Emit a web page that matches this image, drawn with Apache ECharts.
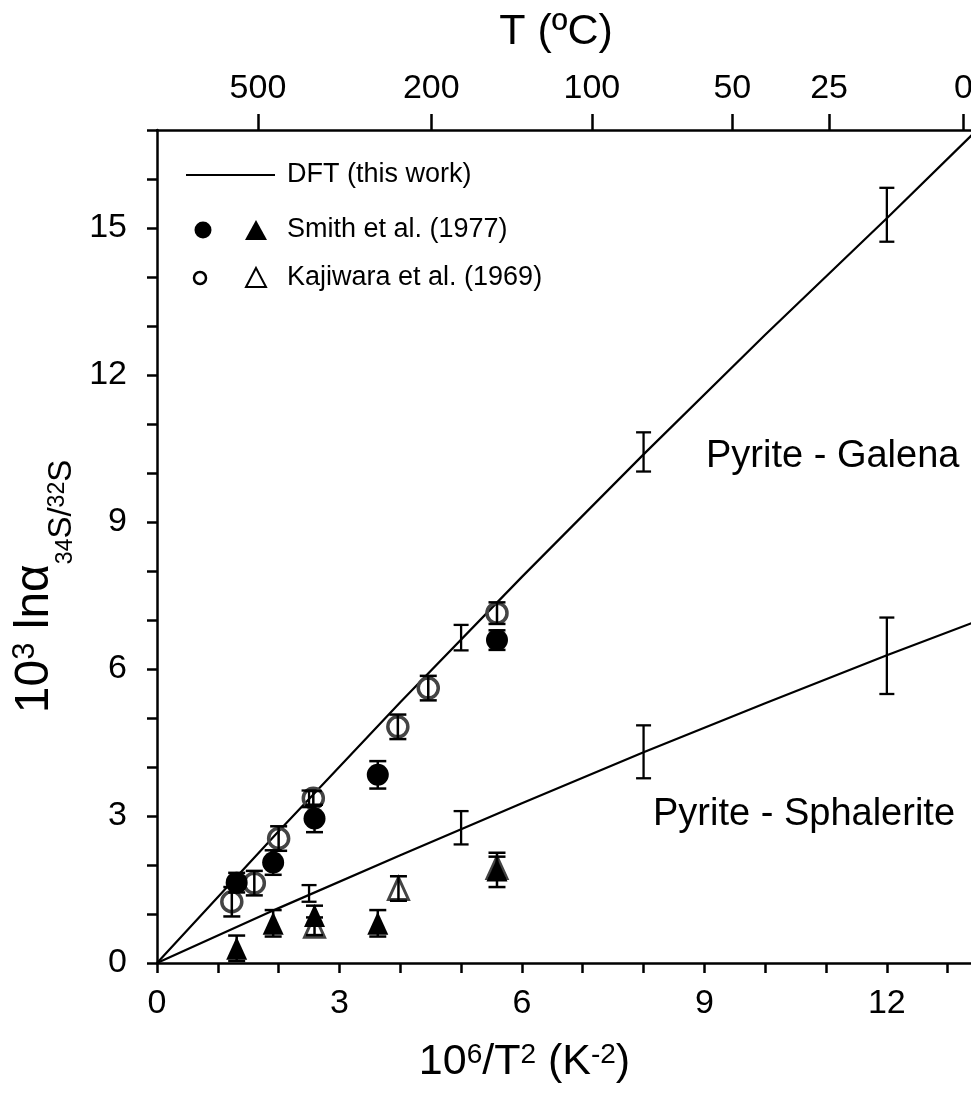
<!DOCTYPE html>
<html>
<head>
<meta charset="utf-8">
<script src="https://cdn.jsdelivr.net/npm/echarts@6/dist/echarts.min.js"></script>
<style>
html,body{margin:0;padding:0;background:#fff;}
#chart{width:971px;height:1100px;}
</style>
</head>
<body>
<div id="chart"></div>
<script>
// ---- DFT model curves (this work) ----
const dftX = [0, 2, 4, 6, 8, 10, 12, 13.4];
const galenaDFT = [0, 2.69, 5.32, 7.88, 10.38, 12.82, 15.2, 16.9];
const sphaleriteDFT = [0, 1.12, 2.2, 3.26, 4.3, 5.3, 6.28, 6.94];

// ---- DFT error bars ----
const dftErrX = [2.5, 5, 8, 12];
const galenaDFTCenter = [3.35, 6.64, 10.43, 15.27];
const galenaDFTErr = [0.17, 0.26, 0.4, 0.55];
const sphaleriteDFTCenter = [1.42, 2.76, 4.31, 6.27];
const sphaleriteDFTErr = [0.17, 0.34, 0.54, 0.78];

// ---- Smith et al. (1977) ----
const smithGalenaX = [1.31, 1.91, 2.59, 3.63, 5.59];
const smithGalenaY = [1.64, 2.05, 2.95, 3.84, 6.59];
const smithGalenaErr = [0.2, 0.25, 0.28, 0.28, 0.2];
const smithSphalX = [1.31, 1.91, 2.59, 3.63, 5.59];
const smithSphalY = [0.3, 0.81, 0.97, 0.81, 1.9];
const smithSphalErr = [0.26, 0.27, 0.2, 0.27, 0.35];

// ---- Kajiwara et al. (1969) ----
const kajGalenaX = [1.23, 1.6, 2.0, 2.57, 3.96, 4.46, 5.59];
const kajGalenaY = [1.25, 1.63, 2.54, 3.36, 4.82, 5.61, 7.14];
const kajGalenaErr = [0.3, 0.25, 0.25, 0.15, 0.25, 0.25, 0.22];
const kajSphalX = [2.59, 3.97, 5.59];
const kajSphalY = [0.75, 1.52, 1.95];
const kajSphalErr = [0.18, 0.25, 0.22];

// ---- axes ----
const xTicks = [0,1,2,3,4,5,6,7,8,9,10,11,12,13];
const xLabels = [0, 3, 6, 9, 12];
const yTicks = [0,1,2,3,4,5,6,7,8,9,10,11,12,13,14,15,16,17];
const yLabels = [0, 3, 6, 9, 12, 15];
const topTickPos = [1.66, 4.51, 7.15, 9.46, 11.05, 13.26];
const topTickLabels = ['500', '200', '100', '50', '25', '0'];

const FONT = '"Liberation Sans", Arial, Helvetica, sans-serif';
const zip = (xs, ys) => xs.map((x, i) => [x, ys[i]]);
const zip3 = (xs, ys, es) => xs.map((x, i) => [x, ys[i], es[i]]);

function errRender(capHalf, lw) {
  return function (params, api) {
    const x = api.value(0), y = api.value(1), e = api.value(2);
    const t = api.coord([x, y + e]);
    const b = api.coord([x, y - e]);
    const st = { stroke: '#000', lineWidth: lw };
    return {
      type: 'group',
      children: [
        { type: 'line', shape: { x1: t[0], y1: t[1], x2: b[0], y2: b[1] }, style: st },
        { type: 'line', shape: { x1: t[0] - capHalf, y1: t[1], x2: t[0] + capHalf, y2: t[1] }, style: st },
        { type: 'line', shape: { x1: b[0] - capHalf, y1: b[1], x2: b[0] + capHalf, y2: b[1] }, style: st }
      ]
    };
  };
}

const axisLineStyle = { color: '#000', width: 2.5 };
const tickLabelStyle = { color: '#000', fontSize: 34, fontFamily: FONT };

const option = {
  backgroundColor: '#fff',
  animation: false,
  grid: { left: 157, top: 130, width: 815, height: 833, outerBoundsMode: 'none', containLabel: false },
  xAxis: [
    {
      type: 'value', position: 'bottom', min: 0, max: 13.4,
      axisLine: { show: true, lineStyle: axisLineStyle },
      axisTick: { show: true, customValues: xTicks, length: 10, lineStyle: { color: '#000', width: 2.5 } },
      axisLabel: Object.assign({ customValues: xLabels, margin: 24 }, tickLabelStyle),
      splitLine: { show: false },
      name: '{b|10}{s|6}{b|/T}{s|2}{b| (K}{s|-2}{b|)}',
      nameLocation: 'middle', nameGap: 78,
      nameTextStyle: {
        color: '#000', fontFamily: FONT, padding: [0, 80, 0, 0],
        rich: {
          b: { fontSize: 43, lineHeight: 56, verticalAlign: 'top', fontFamily: FONT, color: '#000' },
          s: { fontSize: 28, lineHeight: 28, verticalAlign: 'top', fontFamily: FONT, color: '#000' }
        }
      }
    },
    {
      type: 'value', position: 'top', min: 0, max: 13.4,
      axisLine: { show: true, onZero: false, lineStyle: axisLineStyle },
      axisTick: { show: true, customValues: topTickPos, length: 16, lineStyle: { color: '#000', width: 2.5 } },
      axisLabel: Object.assign({
        customValues: topTickPos, margin: 24,
        formatter: function (v) {
          let best = 0, d = Infinity;
          topTickPos.forEach((p, i) => { if (Math.abs(p - v) < d) { d = Math.abs(p - v); best = i; } });
          return topTickLabels[best];
        }
      }, tickLabelStyle),
      splitLine: { show: false },
      name: 'T (ºC)', nameLocation: 'middle', nameGap: 73,
      nameTextStyle: { color: '#000', fontFamily: FONT, fontSize: 43, lineHeight: 50, padding: [0, 17, 0, 0] }
    }
  ],
  yAxis: [
    {
      type: 'value', position: 'left', min: 0, max: 17,
      axisLine: { show: true, onZero: false, lineStyle: axisLineStyle },
      axisTick: { show: true, customValues: yTicks, length: 10, lineStyle: { color: '#000', width: 2.5 } },
      axisLabel: Object.assign({ customValues: yLabels, margin: 30 }, tickLabelStyle),
      splitLine: { show: false },
      name: '{b|10}{s|3}{b| lnα}{d|34}{e|S/}{u|32}{e|S}',
      nameLocation: 'middle', nameGap: 59, nameRotate: 90,
      nameTextStyle: {
        color: '#000', fontFamily: FONT, padding: [0, 80, 0, 0],
        rich: {
          b: { fontSize: 48, lineHeight: 62, verticalAlign: 'top', fontFamily: FONT, color: '#000' },
          s: { fontSize: 31, lineHeight: 31, verticalAlign: 'top', fontFamily: FONT, color: '#000' },
          d: { fontSize: 23, lineHeight: 23, verticalAlign: 'top', padding: [44, 0, 0, 0], fontFamily: FONT, color: '#000' },
          e: { fontSize: 33, lineHeight: 33, verticalAlign: 'top', padding: [35, 0, 0, 0], fontFamily: FONT, color: '#000' },
          u: { fontSize: 23, lineHeight: 23, verticalAlign: 'top', padding: [36, 0, 0, 0], fontFamily: FONT, color: '#000' }
        }
      }
    }
  ],
  graphic: [
    // legend
    { type: 'line', shape: { x1: 186, y1: 175, x2: 275, y2: 175 }, style: { stroke: '#000', lineWidth: 2.2 } },
    { type: 'text', x: 287, y: 175, style: { text: 'DFT (this work)', fill: '#000', font: '27px ' + FONT, textVerticalAlign: 'middle' } },
    { type: 'circle', shape: { cx: 203, cy: 230, r: 8.5 }, style: { fill: '#000' } },
    { type: 'polygon', shape: { points: [[256, 220], [267, 240], [245, 240]] }, style: { fill: '#000' } },
    { type: 'text', x: 287, y: 230, style: { text: 'Smith et al. (1977)', fill: '#000', font: '27px ' + FONT, textVerticalAlign: 'middle' } },
    { type: 'circle', shape: { cx: 200, cy: 278, r: 6 }, style: { fill: 'none', stroke: '#000', lineWidth: 2.5 } },
    { type: 'polygon', shape: { points: [[256, 268], [266, 287], [246, 287]] }, style: { fill: 'none', stroke: '#000', lineWidth: 2 } },
    { type: 'text', x: 287, y: 278, style: { text: 'Kajiwara et al. (1969)', fill: '#000', font: '27px ' + FONT, textVerticalAlign: 'middle' } },
    // curve annotations
    { type: 'text', x: 706, y: 457, style: { text: 'Pyrite - Galena', fill: '#000', font: '38px ' + FONT, textVerticalAlign: 'middle' } },
    { type: 'text', x: 653, y: 815, style: { text: 'Pyrite - Sphalerite', fill: '#000', font: '38px ' + FONT, textVerticalAlign: 'middle' } }
  ],
  series: [
    { name: 'DFT galena', type: 'line', xAxisIndex: 0, yAxisIndex: 0, data: zip(dftX, galenaDFT), symbol: 'none', lineStyle: { color: '#000', width: 2.2 }, z: 2 },
    { name: 'DFT sphalerite', type: 'line', xAxisIndex: 0, yAxisIndex: 0, data: zip(dftX, sphaleriteDFT), symbol: 'none', lineStyle: { color: '#000', width: 2.2 }, z: 2 },
    { name: 'Kajiwara galena', type: 'scatter', data: zip(kajGalenaX, kajGalenaY), symbol: 'circle', symbolSize: 20,
      itemStyle: { color: 'rgba(0,0,0,0)', borderColor: '#444', borderWidth: 3.5, opacity: 1 }, z: 3 },
    { name: 'Kajiwara sphalerite', type: 'scatter', data: zip(kajSphalX, kajSphalY), symbol: 'triangle', symbolSize: [20, 22],
      itemStyle: { color: 'rgba(0,0,0,0)', borderColor: '#444', borderWidth: 3, opacity: 1 }, z: 3 },
    { name: 'Smith galena', type: 'scatter', data: zip(smithGalenaX, smithGalenaY), symbol: 'circle', symbolSize: 22,
      itemStyle: { color: '#000', opacity: 1 }, z: 4 },
    { name: 'Smith sphalerite', type: 'scatter', data: zip(smithSphalX, smithSphalY), symbol: 'triangle', symbolSize: [21, 23],
      itemStyle: { color: '#000', opacity: 1 }, z: 4 },
    { name: 'data error', type: 'custom', renderItem: errRender(8.5, 2.5), z: 5,
      data: [].concat(zip3(kajGalenaX, kajGalenaY, kajGalenaErr), zip3(smithGalenaX, smithGalenaY, smithGalenaErr),
                      zip3(kajSphalX, kajSphalY, kajSphalErr), zip3(smithSphalX, smithSphalY, smithSphalErr)) },
    { name: 'DFT error', type: 'custom', renderItem: errRender(7.5, 2.3), z: 5,
      data: [].concat(zip3(dftErrX, galenaDFTCenter, galenaDFTErr), zip3(dftErrX, sphaleriteDFTCenter, sphaleriteDFTErr)) }
  ]
};

const chart = echarts.init(document.getElementById('chart'), null, { renderer: 'canvas' });
chart.setOption(option);
</script>
</body>
</html>
